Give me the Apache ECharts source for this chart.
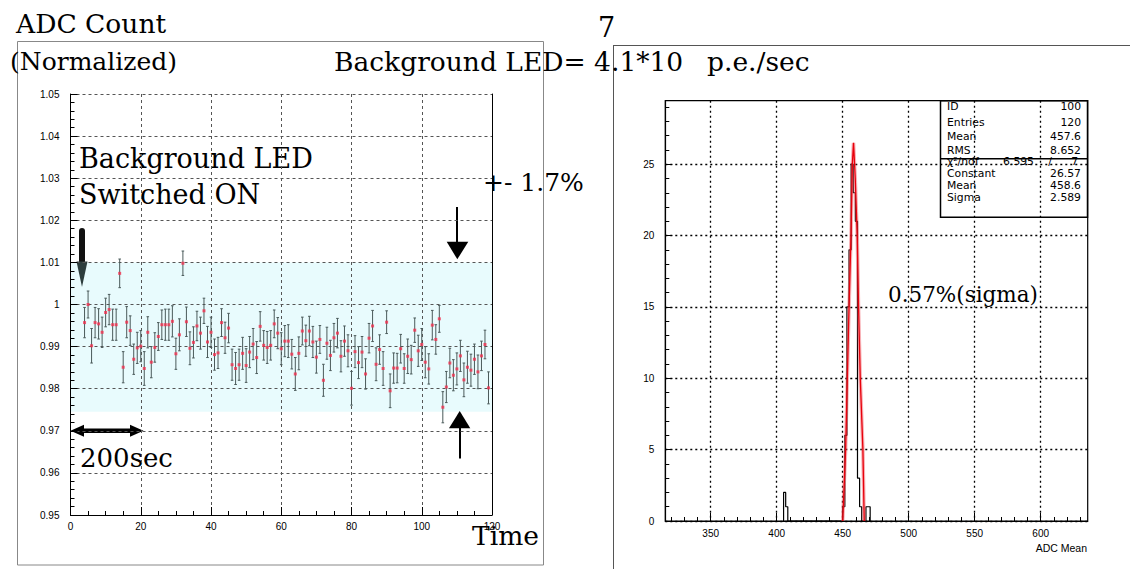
<!DOCTYPE html>
<html><head><meta charset="utf-8">
<script src="https://cdn.jsdelivr.net/npm/echarts@6/dist/echarts.min.js"></script>
<style>html,body{margin:0;padding:0;background:#fff}#c{width:1130px;height:569px}</style>
</head><body><div id="c"></div>
<script>
// ---------- left panel: normalized ADC count vs time ----------
const times = [4,5,6,7,8,9,10,11,12,13,14,15,16,17,18,19,20,21,22,23,24,25,26,27,28,29,30,31,32,33,34,35,36,37,38,39,40,41,42,43,44,45,46,47,48,49,50,51,52,53,54,55,56,57,58,59,60,61,62,63,64,65,66,67,68,69,70,71,72,73,74,75,76,77,78,79,80,81,82,83,84,85,86,87,88,89,90,91,92,93,94,95,96,97,98,99,100,101,102,103,104,105,106,107,108,109,110,111,112,113,114,115,116,117,118,119];
const ratio = [0.9957,1.0000,0.9902,0.9957,0.9954,0.9934,0.9981,0.9988,0.9952,0.9952,1.0074,0.9851,0.9958,0.9938,0.9870,0.9897,0.9901,0.9848,0.9934,0.9863,0.9898,0.9924,0.9952,0.9952,0.9952,0.9960,0.9883,0.9928,1.0098,0.9959,0.9896,0.9910,0.9949,0.9932,0.9985,0.9911,0.9934,0.9881,0.9885,0.9957,0.9921,0.9944,0.9857,0.9848,0.9857,0.9884,0.9855,0.9887,0.9906,0.9874,0.9948,0.9903,0.9898,0.9903,0.9954,0.9932,0.9895,0.9913,0.9913,0.9882,0.9835,0.9884,0.9937,0.9914,0.9937,0.9911,0.9875,0.9917,0.9820,0.9908,0.9879,0.9921,0.9932,0.9877,0.9913,0.9890,0.9801,0.9888,0.9862,0.9887,0.9835,0.9920,0.9949,0.9858,0.9893,0.9848,0.9958,0.9795,0.9849,0.9849,0.9895,0.9848,0.9877,0.9869,0.9939,0.9890,0.9905,0.9863,0.9847,0.9951,0.9917,0.9966,0.9756,0.9804,0.9861,0.9832,0.9847,0.9878,0.9821,0.9851,0.9844,0.9870,0.9840,0.9878,0.9905,0.9802];
const ratioErr = [0.0036,0.0032,0.0041,0.0036,0.0036,0.0036,0.0034,0.0036,0.0037,0.0037,0.0034,0.0037,0.0037,0.0035,0.0036,0.0037,0.0037,0.0040,0.0037,0.0037,0.0035,0.0033,0.0035,0.0037,0.0037,0.0037,0.0037,0.0038,0.0029,0.0035,0.0039,0.0037,0.0035,0.0038,0.0030,0.0037,0.0036,0.0037,0.0037,0.0033,0.0037,0.0035,0.0037,0.0038,0.0037,0.0038,0.0040,0.0037,0.0037,0.0038,0.0035,0.0035,0.0038,0.0035,0.0033,0.0037,0.0038,0.0037,0.0039,0.0035,0.0039,0.0039,0.0033,0.0037,0.0035,0.0037,0.0038,0.0033,0.0038,0.0038,0.0036,0.0034,0.0035,0.0037,0.0036,0.0038,0.0040,0.0038,0.0038,0.0037,0.0036,0.0035,0.0037,0.0039,0.0035,0.0040,0.0027,0.0040,0.0036,0.0035,0.0034,0.0035,0.0041,0.0034,0.0029,0.0037,0.0038,0.0037,0.0036,0.0035,0.0035,0.0032,0.0037,0.0037,0.0035,0.0037,0.0038,0.0037,0.0040,0.0038,0.0038,0.0036,0.0040,0.0035,0.0034,0.0038];
const bandLow = 0.9745, bandHigh = 1.0100;   // +- 1.7% band
const timeMin = 0, timeMax = 120;
const ratioMin = 0.95, ratioMax = 1.05;

// ---------- right panel: histogram of ADC mean ----------
const binLow   = [405.2,406.8,450.0,451.6,453.2,454.8,456.4,458.0,459.6,461.2,462.8,467.6,469.2];
const binCount = [2,    1,    1,    6,    15,   19,   25,   23,   21,   3,    1,    1,    1];
const binWidth = 1.6;
const fitX = [450.0,452.2,453.5,454.8,456.3,457.3,458.2,459.5,461.0,462.0,463.3,465.3,466.3];
const fitY = [0,    5,    10,   15,   20,   25,   26.5, 24,   20,   15,   10,   5,    0];
const adcMin = 315.6, adcMax = 635.6;
const adcLabels = [350,400,450,500,550,600];
const adcMinor = [320,330,340,360,370,380,390,410,420,430,440,460,470,480,490,510,520,530,540,560,570,580,590,610,620,630];
const cntMin = 0, cntMax = 29.45;
const cntLabels = [0,5,10,15,20,25];
const cntMinor = [1,2,3,4,6,7,8,9,11,12,13,14,16,17,18,19,21,22,23,24,26,27,28,29];

// stats box
const statsTop = [['ID','100'],['Entries','120'],['Mean','457.6'],['RMS','8.652']];
const statsFit = [['Constant','26.57'],['Mean','458.6'],['Sigma','2.589']];
const chi2 = '6.595', ndf = '7';

// build step outline from bins
const steps = [];
let prevEnd = null;
binLow.forEach((lo, i) => {
  const hi = +(lo + binWidth).toFixed(2);
  if (prevEnd === null) steps.push([lo, 0]);
  else if (Math.abs(lo - prevEnd) > 1e-6) { steps.push([prevEnd, 0]); steps.push([lo, 0]); }
  steps.push([lo, binCount[i]]); steps.push([hi, binCount[i]]);
  prevEnd = hi;
});
steps.push([prevEnd, 0]);

const SANS = '"Liberation Sans", Arial, sans-serif';
const SERIF = '"DejaVu Serif", serif';
const lab = {color:'#000', fontFamily:SANS, fontSize:10};

const chart = echarts.init(document.getElementById('c'), null, {renderer:'svg'});

function txt(text, x, y, size, extra) {
  return Object.assign({type:'text', x:x, y:y, silent:true,
    style:{text:text, font: size + 'px ' + SERIF, fill:'#000', verticalAlign:'middle'}}, extra||{});
}
function stxt(text, x, y, align) {
  return {type:'text', x:x, y:y, silent:true, style:{text:text, font:'10.8px "DejaVu Sans", sans-serif', fill:'#000', align: align||'left', verticalAlign:'middle'}};
}

const graphics = [
  // frames
  {type:'rect', shape:{x:17.5, y:41.5, width:526, height:523.5}, style:{fill:'none', stroke:'#888', lineWidth:1}, silent:true},
  {type:'line', shape:{x1:613.5, y1:45, x2:613.5, y2:569}, style:{stroke:'#555', lineWidth:1}, silent:true},
  {type:'line', shape:{x1:613, y1:45.5, x2:1130, y2:45.5}, style:{stroke:'#555', lineWidth:1}, silent:true},
  // titles
  txt('ADC Count', 16, 23, 26.5),
  txt('(Normalized)', 10, 61, 25),
  txt('Background LED= 4.1*10', 334, 61, 26.5),
  txt('7', 598, 27, 27),
  txt('p.e./sec', 707, 61, 26.5),
  // left annotations
  txt('Background LED', 79, 158, 27),
  txt('Switched ON', 79, 194, 27),
  txt('+- 1.7%', 483, 182, 25),
  txt('200sec', 80, 458, 26),
  txt('Time', 472, 535, 26.5),
  // right annotation
  txt('0.57%(sigma)', 888, 294, 21.5),
  {type:'text', x:1087, y:548, silent:true, style:{text:'ADC Mean', font:'10.5px ' + SANS, fill:'#000', align:'right', verticalAlign:'middle'}},
  // thick down arrow
  {type:'rect', shape:{x:79, y:228, width:6, height:36, r:3}, style:{fill:'#111'}, silent:true},
  {type:'polygon', shape:{points:[[76.5,261.5],[87.5,261.5],[82,287]]}, style:{fill:'#2c3d3d'}, silent:true},
  // thin down arrow
  {type:'line', shape:{x1:457, y1:207, x2:457, y2:244}, style:{stroke:'#000', lineWidth:2}, silent:true},
  {type:'polygon', shape:{points:[[446.7,241.7],[468.3,241.7],[457.3,259.3]]}, style:{fill:'#000'}, silent:true},
  // up arrow
  {type:'line', shape:{x1:460, y1:426, x2:460, y2:458.5}, style:{stroke:'#000', lineWidth:2}, silent:true},
  {type:'polygon', shape:{points:[[449,428.3],[470.3,428.3],[459.7,411]]}, style:{fill:'#000'}, silent:true},
  // double arrow
  {type:'rect', shape:{x:80, y:428.5, width:54, height:4.6}, style:{fill:'#000'}, silent:true},
  {type:'polygon', shape:{points:[[70.5,430.8],[84,424.8],[84,436.8]]}, style:{fill:'#000'}, silent:true},
  {type:'polygon', shape:{points:[[143.5,430.8],[130,424.8],[130,436.8]]}, style:{fill:'#000'}, silent:true},
  // stats box
  {type:'rect', shape:{x:940.5, y:100.7, width:147, height:116.6}, style:{fill:'none', stroke:'#000', lineWidth:1.5}, silent:true},
  {type:'line', shape:{x1:940.5, y1:158.8, x2:1087.5, y2:158.8}, style:{stroke:'#000', lineWidth:1.5}, silent:true}
];
const rowsTop = [106, 122, 136, 150];
statsTop.forEach((r, i) => { graphics.push(stxt(r[0], 947, rowsTop[i])); graphics.push(stxt(r[1], 1081, rowsTop[i], 'right')); });
graphics.push(stxt('\u03C7\u00B2/ndf', 947, 161));
graphics.push(stxt(chi2, 1034, 161, 'right'));
graphics.push(stxt('/', 1050, 161, 'center'));
graphics.push(stxt(ndf, 1078, 161, 'right'));
const rowsFit = [173, 185, 197];
statsFit.forEach((r, i) => { graphics.push(stxt(r[0], 947, rowsFit[i])); graphics.push(stxt(r[1], 1081, rowsFit[i], 'right')); });

const option = {
  animation: false,
  backgroundColor: '#fff',
  grid: [
    {left:70.5, top:94, width:421.5, height:421, outerBoundsMode:'none', containLabel:false},
    {left:665.3, top:100.7, width:422.4, height:420.3, outerBoundsMode:'none', containLabel:false, show:true, borderColor:'#000', borderWidth:1.2, backgroundColor:'transparent'}
  ],
  xAxis: [
    {gridIndex:0, type:'value', position:'bottom', min:timeMin, max:timeMax, interval:20,
     axisLine:{lineStyle:{color:'#000', width:1}},
     axisTick:{inside:true, length:8, lineStyle:{color:'#000'}},
     minorTick:{show:true, splitNumber:4, length:4, lineStyle:{color:'#000'}},
     axisLabel:Object.assign({margin:6}, lab),
     splitLine:{show:true, lineStyle:{color:'#555', type:[3,3], width:1}}},
    {gridIndex:1, type:'value', position:'bottom', min:adcMin, max:adcMax,
     axisLine:{lineStyle:{color:'#000', width:1.2}},
     axisTick:{inside:true, length:8, customValues:adcLabels, lineStyle:{color:'#000'}},
     axisLabel:Object.assign({margin:7, customValues:adcLabels}, lab),
     splitLine:{show:true, lineStyle:{color:'#000', type:[2,3], width:1.3}}},
    {gridIndex:1, type:'value', position:'bottom', offset:0, min:adcMin, max:adcMax,
     axisLine:{show:false},
     axisTick:{inside:true, length:4, customValues:adcMinor, lineStyle:{color:'#000'}},
     axisLabel:{show:false}, splitLine:{show:false}}
  ],
  yAxis: [
    {gridIndex:0, type:'value', position:'left', min:ratioMin, max:ratioMax, interval:0.01,
     axisLine:{show:true, lineStyle:{color:'#000', width:1}},
     axisTick:{show:true, inside:true, length:7, lineStyle:{color:'#000'}},
     minorTick:{show:true, splitNumber:5, length:4, lineStyle:{color:'#000'}},
     axisLabel:Object.assign({margin:11, formatter: v => String(Math.round(v*100)/100)}, lab),
     splitLine:{show:true, lineStyle:{color:'#555', type:[3,3], width:1}}},
    {gridIndex:0, type:'value', position:'right', offset:0, min:ratioMin, max:ratioMax,
     axisLine:{show:true, lineStyle:{color:'#000', width:1}},
     axisTick:{show:false}, axisLabel:{show:false}, splitLine:{show:false}},
    {gridIndex:1, type:'value', position:'left', min:cntMin, max:cntMax,
     axisLine:{show:true, lineStyle:{color:'#000', width:1.2}},
     axisTick:{show:true, inside:true, length:7, customValues:cntLabels, lineStyle:{color:'#000'}},
     axisLabel:Object.assign({margin:11, customValues:cntLabels}, lab),
     splitLine:{show:true, lineStyle:{color:'#000', type:[2,3], width:1.3}}},
    {gridIndex:1, type:'value', position:'left', offset:0, min:cntMin, max:cntMax,
     axisLine:{show:false},
     axisTick:{show:true, inside:true, length:4, customValues:cntMinor, lineStyle:{color:'#000'}},
     axisLabel:{show:false}, splitLine:{show:false}}
  ],
  graphic: graphics,
  series: [
    {type:'custom', name:'band', xAxisIndex:0, yAxisIndex:0, z:-1, silent:true,
     data:[[timeMin, timeMax, bandLow, bandHigh]], encode:{x:[0,1], y:[2,3]},
     renderItem:(params, api) => {
       const p1 = api.coord([api.value(0), api.value(3)]);
       const p2 = api.coord([api.value(1), api.value(2)]);
       return {type:'rect', shape:{x:p1[0], y:p1[1], width:p2[0]-p1[0], height:p2[1]-p1[1]}, style:{fill:'#e8fbfd'}};
     }},
    {type:'custom', name:'errors', xAxisIndex:0, yAxisIndex:0, silent:true,
     data: times.map((t, i) => [t, ratio[i], ratioErr[i]]), encode:{x:0, y:1},
     renderItem:(params, api) => {
       const x = api.value(0), y = api.value(1), e = api.value(2);
       const a = api.coord([x, y + e]), b = api.coord([x, y - e]);
       const st = {stroke:'#4a5a5a', lineWidth:1};
       return {type:'group', children:[
         {type:'line', shape:{x1:a[0], y1:a[1], x2:b[0], y2:b[1]}, style:st},
         {type:'line', shape:{x1:a[0]-1.3, y1:a[1], x2:a[0]+1.3, y2:a[1]}, style:st},
         {type:'line', shape:{x1:b[0]-1.3, y1:b[1], x2:b[0]+1.3, y2:b[1]}, style:st}
       ]};
     }},
    {type:'scatter', name:'ratio', xAxisIndex:0, yAxisIndex:0, symbol:'rect', symbolSize:[3,3],
     itemStyle:{color:'#f2304d'}, data: times.map((t, i) => [t, ratio[i]])},
    {type:'line', name:'hist', xAxisIndex:1, yAxisIndex:2, symbol:'none', data:steps,
     lineStyle:{color:'#000', width:1.2}},
    {type:'line', name:'fitglow', xAxisIndex:1, yAxisIndex:2, symbol:'none', data: fitX.map((x, i) => [x, fitY[i]]),
     lineStyle:{color:'rgba(240,80,90,0.45)', width:3.5}},
    {type:'line', name:'fit', xAxisIndex:1, yAxisIndex:2, symbol:'none', data: fitX.map((x, i) => [x, fitY[i]]),
     lineStyle:{color:'#e8000b', width:1.3}}
  ]
};
chart.setOption(option);
</script></body></html>
